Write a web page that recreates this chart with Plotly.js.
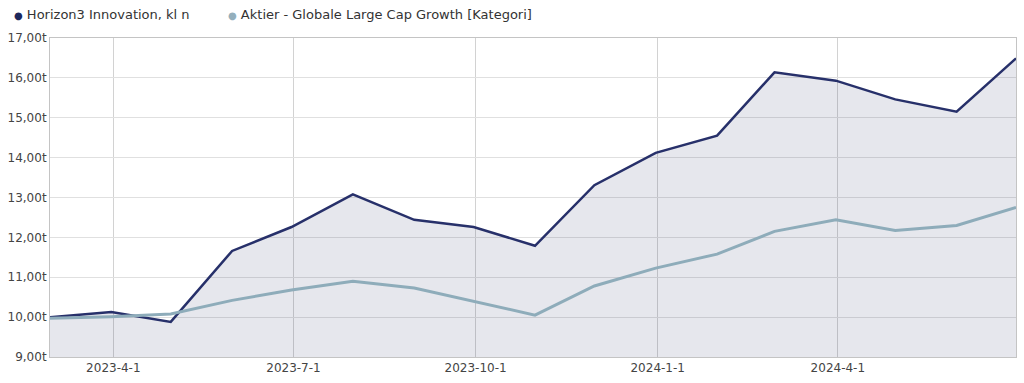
<!DOCTYPE html>
<html>
<head>
<meta charset="utf-8">
<script src="https://cdn.plot.ly/plotly-3.0.1.min.js"></script>
<style>html,body{margin:0;padding:0;background:#fff;}#chart{width:1024px;height:383px;}</style>
</head>
<body>
<div id="chart"></div>
<script>
const dates = ["2023-02-28","2023-03-31","2023-04-30","2023-05-31","2023-06-30","2023-07-31","2023-08-31","2023-09-30","2023-10-31","2023-11-30","2023-12-31","2024-01-31","2024-02-29","2024-03-31","2024-04-30","2024-05-31","2024-06-30"];
const fundName = "Horizon3 Innovation, kl n";
const fundValues = [10.00,10.13,9.88,11.66,12.26,13.08,12.44,12.26,11.79,13.31,14.12,14.55,16.14,15.93,15.46,15.15,16.49];
const catName = "Aktier - Globale Large Cap Growth [Kategori]";
const catValues = [9.97,10.01,10.08,10.42,10.68,10.90,10.73,10.40,10.05,10.78,11.23,11.58,12.15,12.44,12.17,12.30,12.75];
const xTickVals = ["2023-04-01","2023-07-01","2023-10-01","2024-01-01","2024-04-01"];
const xTickText = ["2023-4-1","2023-7-1","2023-10-1","2024-1-1","2024-4-1"];

const navy = "#27306a";
const grey = "#8eacba";
const navyDot = "#1c275c";
const greyDot = "#94afbc";

const traces = [
  {x: dates, y: fundValues, type: "scatter", mode: "lines", fill: "tozeroy", name: fundName,
   fillcolor: "rgba(30,40,90,0.11)", line: {color: navy, width: 2.5}, showlegend: false, hoverinfo: "skip"},
  {x: dates, y: catValues, type: "scatter", mode: "lines", name: catName,
   line: {color: grey, width: 3}, showlegend: false, hoverinfo: "skip"}
];

// plot area in px: left 50, right 1016 (966 wide); top 38, bottom 357 (319 tall)
function px2x(p) { return (p - 50) / 966; }
function py2y(p) { return (357 - p) / 319; }

function legendText(color, name) {
  return '<span style="color:' + color + ';font-size:10px">●</span> ' + name;
}

const layout = {
  width: 1024, height: 383,
  margin: {l: 50, r: 8, t: 38, b: 26},
  paper_bgcolor: "#fff", plot_bgcolor: "#fff",
  separators: ",.",
  font: {family: "DejaVu Sans, Verdana, sans-serif", size: 12, color: "#444"},
  showlegend: false,
  annotations: [
    {xref: "paper", yref: "paper", x: px2x(12), y: py2y(14), xanchor: "left", yanchor: "middle",
     showarrow: false, text: legendText(navyDot, fundName), font: {size: 13, color: "#333"}},
    {xref: "paper", yref: "paper", x: px2x(226), y: py2y(14), xanchor: "left", yanchor: "middle",
     showarrow: false, text: legendText(greyDot, catName), font: {size: 13, color: "#333"}}
  ],
  xaxis: {type: "date", range: ["2023-02-28","2024-06-30"], tickvals: xTickVals, ticktext: xTickText,
          showgrid: true, gridcolor: "#d2d2d2", showline: true, mirror: true, linecolor: "#c4c4c4",
          ticks: "", zeroline: false, tickfont: {size: 12, color: "#444"}},
  yaxis: {range: [9, 17], dtick: 1, tick0: 9, tickformat: ".2f", ticksuffix: "t",
          showgrid: true, gridcolor: "#e0e0e0", showline: true, mirror: true, linecolor: "#c4c4c4",
          ticks: "", zeroline: false, tickfont: {size: 12, color: "#444"}}
};

Plotly.newPlot("chart", traces, layout, {displayModeBar: false, staticPlot: true});
</script>
</body>
</html>
